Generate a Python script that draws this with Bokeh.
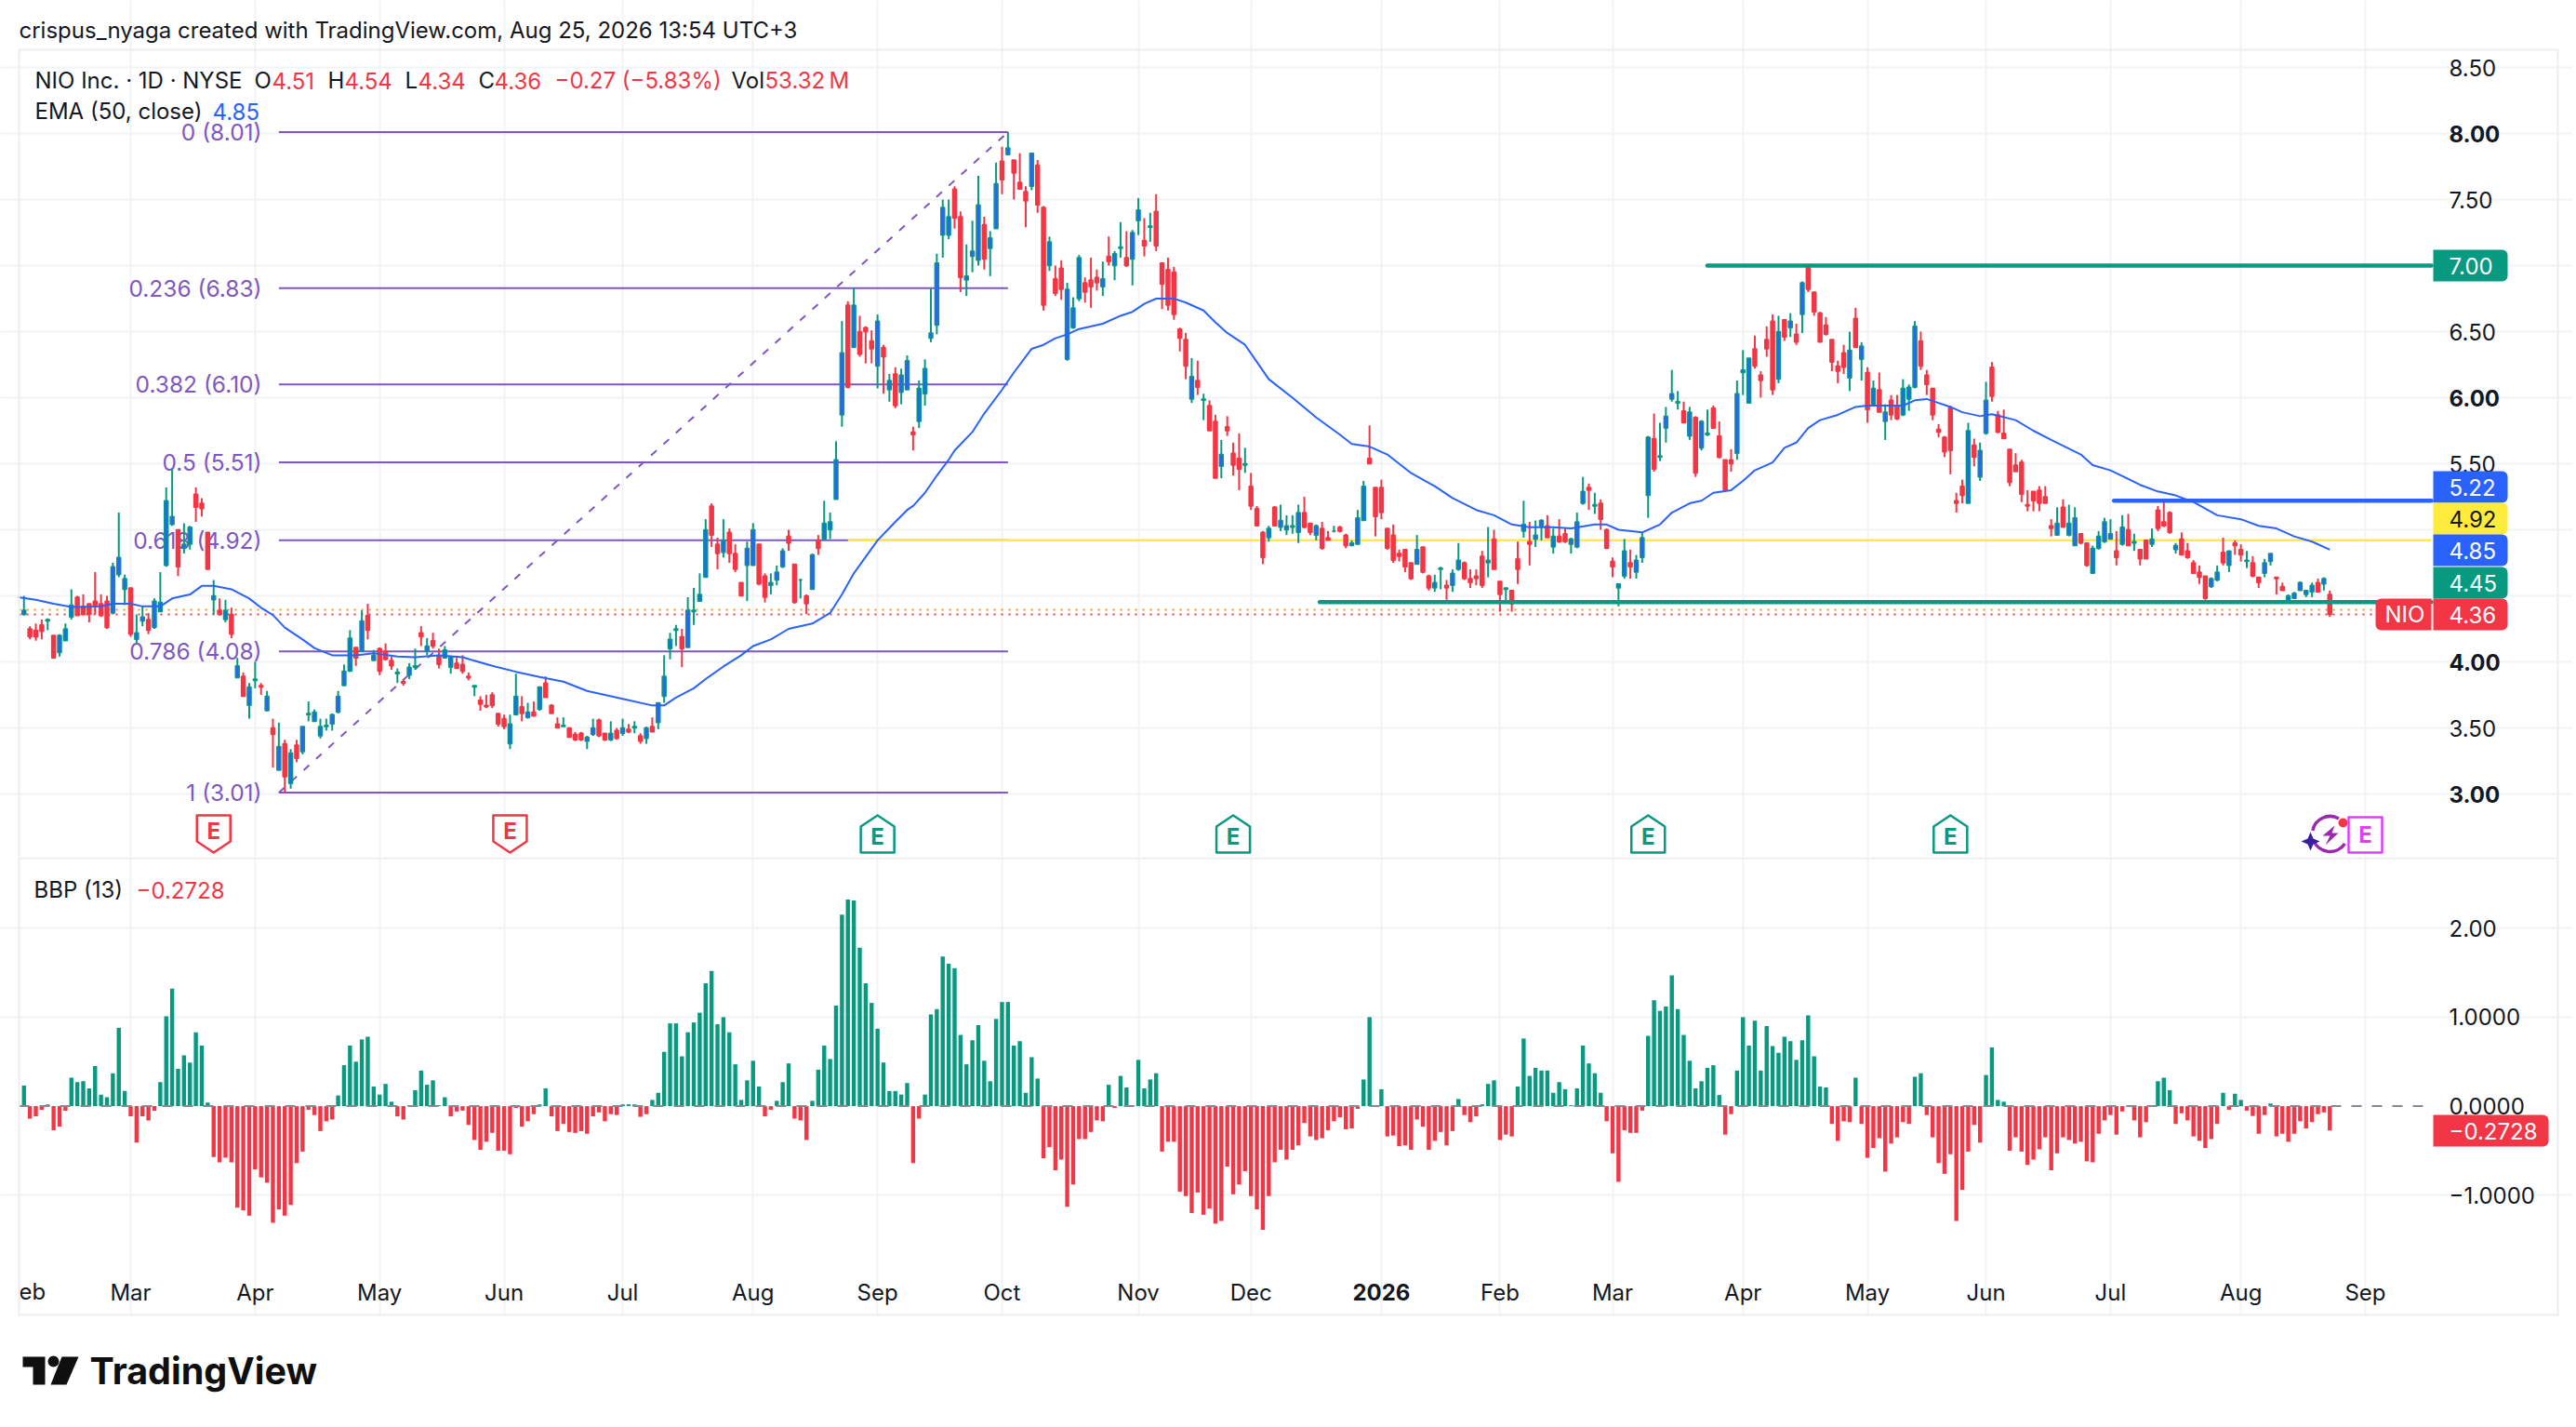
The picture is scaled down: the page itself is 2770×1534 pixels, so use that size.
from bokeh.plotting import figure
from bokeh.layouts import column
from bokeh.models import Range1d, FixedTicker, NumeralTickFormatter, Label, BoxAnnotation, LinearAxis
from bokeh.core.properties import value
from bokeh.embed import file_html
from bokeh.resources import INLINE

# ---- data: one row per ten daily bars, first bar index -18 ----
first_bar = -18
opens = [
 4.36,4.25,4.24,4.28,4.31,4.20,4.07,4.16,4.34,4.49,
 4.42,4.44,4.46,4.44,4.46,4.37,4.66,4.55,4.56,4.17,
 4.31,4.32,4.26,4.38,4.73,5.04,5.00,4.86,4.89,5.27,
 5.20,4.98,4.47,4.39,4.32,4.36,3.88,3.89,3.67,3.86,
 3.82,3.63,3.50,3.18,3.38,3.08,3.37,3.32,3.60,3.55,
 3.44,3.51,3.53,3.62,3.82,3.93,4.11,4.08,4.35,4.01,
 4.10,4.08,4.01,3.91,3.85,3.90,3.96,4.22,4.08,4.16,
 4.05,4.03,3.96,3.99,3.98,3.89,3.81,3.71,3.67,3.75,
 3.61,3.57,3.38,3.60,3.66,3.58,3.62,3.64,3.84,3.67,
 3.53,3.51,3.50,3.45,3.46,3.40,3.45,3.56,3.46,3.41,
 3.48,3.46,3.49,3.50,3.44,3.42,3.51,3.54,3.74,4.10,
 4.24,4.19,4.11,4.38,4.46,4.64,5.18,4.89,4.83,4.98,
 4.82,4.60,4.73,4.73,4.89,4.65,4.58,4.62,4.72,4.95,
 4.74,4.62,4.50,4.55,4.92,4.93,5.00,5.23,5.87,6.70,
 6.38,6.50,6.53,6.43,6.24,6.38,6.06,6.18,6.04,6.06,
 5.74,5.82,6.03,6.45,6.55,7.23,7.23,7.58,7.37,6.89,
 7.07,7.04,7.31,7.13,7.28,7.79,7.84,7.80,7.63,7.56,
 7.60,7.76,7.44,7.00,6.90,6.98,6.29,6.53,6.75,6.87,
 6.89,6.91,6.84,7.07,7.00,7.13,7.06,7.05,7.34,7.19,
 7.29,7.41,7.02,6.97,6.95,6.52,6.44,5.99,6.13,5.98,
 5.94,5.82,5.48,5.78,5.58,5.54,5.49,5.33,5.16,4.98,
 4.94,5.17,5.02,5.00,5.02,4.98,5.13,5.05,4.96,5.01,
 4.94,4.99,5.02,4.96,4.88,4.89,5.07,5.54,5.32,5.32,
 5.01,4.96,4.82,4.85,4.75,4.74,4.87,4.65,4.56,4.70,
 4.58,4.58,4.70,4.75,4.63,4.65,4.80,4.75,4.93,4.61,
 4.55,4.54,4.78,4.99,4.91,4.93,5.03,5.03,4.87,4.95,
 4.97,4.89,4.87,5.20,5.32,5.18,5.20,5.00,4.76,4.56,
 4.65,4.75,4.68,4.79,5.26,5.69,5.55,5.77,5.99,5.96,
 5.90,5.71,5.85,5.62,5.72,5.92,5.71,5.53,5.53,5.58,
 6.19,5.96,6.37,6.17,6.44,6.58,6.14,6.59,6.53,6.48,
 6.63,7.00,6.80,6.64,6.55,6.44,6.24,6.34,6.15,6.60,
 6.29,6.19,5.94,6.06,5.82,5.98,5.94,5.87,5.99,6.08,
 6.43,6.17,6.07,5.76,5.70,5.92,5.22,5.33,5.20,5.64,
 5.40,5.73,6.23,5.87,5.73,5.61,5.49,5.51,5.19,5.29,
 5.30,5.25,5.03,4.96,5.17,4.96,4.88,4.97,4.90,4.67,
 4.86,4.91,4.93,4.84,4.89,5.00,4.90,4.85,4.92,4.89,
 5.15,5.06,5.13,4.85,4.93,4.84,4.75,4.68,4.65,4.57,
 4.62,4.83,4.73,4.90,4.85,4.76,4.75,4.64,4.67,4.76,
 4.64,4.57,4.46,4.48,4.54,4.51,4.53,4.60,4.59,4.51]
closes = [
 4.39,4.19,4.19,4.23,4.32,4.03,4.20,4.25,4.43,4.35,
 4.36,4.36,4.43,4.35,4.26,4.72,4.79,4.63,4.21,4.22,
 4.34,4.24,4.46,4.45,5.22,5.10,4.72,4.89,5.02,5.17,
 5.16,4.70,4.50,4.36,4.39,4.21,3.97,3.74,3.81,3.87,
 3.81,3.74,3.45,3.36,3.13,3.31,3.27,3.51,3.61,3.62,
 3.51,3.52,3.60,3.74,3.93,4.18,4.03,4.31,4.24,4.05,
 3.93,4.02,3.97,3.92,3.84,3.96,3.97,4.19,4.12,4.12,
 3.98,4.09,4.04,3.95,3.93,3.88,3.82,3.68,3.66,3.67,
 3.53,3.51,3.53,3.74,3.61,3.62,3.59,3.81,3.73,3.61,
 3.50,3.52,3.43,3.41,3.41,3.43,3.50,3.44,3.41,3.46,
 3.42,3.50,3.47,3.51,3.40,3.50,3.47,3.69,3.89,4.17,
 4.25,4.10,4.39,4.39,4.51,5.00,4.96,4.82,4.92,4.82,
 4.70,4.50,4.86,5.00,4.59,4.49,4.60,4.68,4.84,4.90,
 4.45,4.62,4.44,4.81,4.86,5.05,5.06,5.53,6.34,6.08,
 6.70,6.33,6.50,6.37,6.58,6.31,6.13,5.94,6.17,6.28,
 5.72,6.07,6.22,6.49,7.02,7.44,7.37,7.36,6.91,6.92,
 7.11,7.46,7.05,7.21,7.62,7.65,7.89,7.70,7.58,7.49,
 7.85,7.46,6.70,7.18,6.79,6.82,6.82,6.68,7.06,6.80,
 6.84,6.87,6.90,7.03,7.09,7.14,7.00,7.25,7.42,7.15,
 7.30,7.15,6.86,6.70,6.63,6.45,6.24,6.16,6.08,5.99,
 5.75,5.39,5.57,5.75,5.49,5.46,5.50,5.18,5.03,4.79,
 5.01,5.03,5.07,5.03,5.03,5.13,5.02,4.98,5.03,4.86,
 4.92,4.99,4.99,4.88,4.90,5.09,5.33,5.50,5.10,5.13,
 4.86,4.77,4.80,4.72,4.63,4.85,4.68,4.56,4.60,4.71,
 4.56,4.67,4.77,4.63,4.60,4.63,4.58,4.77,4.70,4.51,
 4.56,4.44,4.70,5.04,4.89,4.96,5.07,4.94,4.95,4.91,
 4.91,4.93,5.06,5.29,5.30,5.19,5.08,4.86,4.72,4.59,
 4.84,4.72,4.77,4.94,5.70,5.46,5.56,5.86,6.03,5.97,
 5.81,5.89,5.43,5.82,5.73,5.77,5.55,5.30,5.50,6.03,
 6.21,6.30,6.24,6.13,6.37,6.06,6.50,6.46,6.58,6.42,
 6.87,6.82,6.65,6.42,6.48,6.27,6.20,6.23,6.36,6.38,
 6.39,5.91,6.07,5.89,5.89,5.87,5.84,6.07,6.08,6.54,
 6.24,6.10,5.87,5.74,5.59,5.60,5.20,5.26,5.75,5.55,
 5.60,5.98,6.01,5.74,5.69,5.36,5.44,5.27,5.18,5.22,
 5.20,5.20,5.01,5.05,5.02,5.05,5.09,4.90,4.73,4.86,
 4.95,5.06,4.97,4.79,5.02,4.88,4.91,4.78,4.78,4.93,
 5.01,5.03,4.98,4.88,4.81,4.79,4.67,4.64,4.48,4.63,
 4.68,4.75,4.84,4.88,4.81,4.77,4.65,4.60,4.75,4.82,
 4.63,4.54,4.50,4.52,4.60,4.54,4.58,4.53,4.63,4.36]
highs = [
 4.50,4.27,4.29,4.32,4.33,4.20,4.21,4.29,4.55,4.50,
 4.51,4.44,4.68,4.51,4.50,4.75,5.13,4.66,4.56,4.36,
 4.42,4.37,4.48,4.68,5.32,5.46,5.00,5.05,5.03,5.32,
 5.24,4.98,4.62,4.48,4.47,4.41,4.03,3.92,3.84,4.00,
 3.84,3.78,3.57,3.54,3.41,3.34,3.41,3.51,3.70,3.64,
 3.57,3.57,3.61,3.78,3.98,4.24,4.11,4.39,4.44,4.09,
 4.11,4.14,4.04,3.95,3.87,3.99,4.10,4.27,4.18,4.22,
 4.10,4.12,4.04,4.03,4.05,3.92,3.82,3.74,3.75,3.77,
 3.61,3.60,3.60,3.91,3.74,3.69,3.70,3.81,3.89,3.68,
 3.58,3.58,3.50,3.47,3.47,3.44,3.57,3.57,3.46,3.55,
 3.50,3.57,3.53,3.55,3.46,3.51,3.58,3.69,4.05,4.22,
 4.28,4.25,4.49,4.56,4.67,5.08,5.20,4.94,5.08,5.01,
 4.89,4.60,4.91,5.05,4.89,4.67,4.67,4.73,4.86,5.00,
 4.74,4.63,4.51,4.82,4.96,5.22,5.13,5.67,6.58,6.73,
 6.83,6.62,6.54,6.51,6.63,6.40,6.18,6.23,6.22,6.32,
 5.78,6.13,6.29,6.83,7.09,7.50,7.50,7.60,7.41,7.16,
 7.34,7.68,7.37,7.26,7.78,7.90,8.01,7.80,7.85,7.60,
 7.85,7.80,7.45,7.22,7.00,7.04,6.87,6.76,7.08,6.91,
 7.06,6.97,7.03,7.22,7.11,7.33,7.26,7.27,7.51,7.36,
 7.40,7.54,7.02,7.06,6.99,6.53,6.49,6.30,6.28,6.03,
 5.98,5.87,5.68,5.86,5.66,5.73,5.62,5.43,5.18,4.99,
 5.03,5.18,5.19,5.11,5.11,5.19,5.25,5.05,5.04,5.06,
 4.99,5.03,5.03,4.97,4.92,5.15,5.37,5.79,5.32,5.38,
 5.01,5.04,4.85,4.85,4.75,4.96,4.87,4.66,4.66,4.72,
 4.62,4.70,4.90,4.76,4.70,4.70,4.84,5.02,5.00,4.61,
 4.56,4.54,4.91,5.22,5.06,5.07,5.08,5.11,5.01,5.08,
 5.01,4.94,5.13,5.40,5.35,5.28,5.23,5.01,4.79,4.59,
 4.93,4.85,4.81,4.98,5.71,5.88,5.81,5.93,6.21,6.05,
 5.97,5.93,5.86,5.83,5.91,5.94,5.82,5.53,5.61,6.13,
 6.36,6.30,6.47,6.20,6.54,6.63,6.62,6.59,6.64,6.56,
 6.88,7.00,6.80,6.65,6.61,6.44,6.28,6.40,6.50,6.68,
 6.42,6.23,6.13,6.19,5.95,6.02,6.02,6.14,6.10,6.58,
 6.50,6.21,6.07,5.80,5.71,5.94,5.28,5.38,5.81,5.69,
 5.66,6.12,6.27,5.90,5.91,5.61,5.58,5.53,5.30,5.29,
 5.33,5.33,5.08,5.17,5.23,5.19,5.17,4.97,4.90,4.88,
 4.99,5.09,5.08,4.99,5.11,5.12,4.97,4.85,4.92,5.01,
 5.18,5.22,5.14,4.90,4.98,4.90,4.77,4.73,4.65,4.64,
 4.73,4.94,4.84,4.92,4.89,4.84,4.80,4.64,4.78,4.82,
 4.64,4.60,4.51,4.53,4.61,4.54,4.60,4.63,4.64,4.54]
lows = [
 4.35,4.17,4.16,4.17,4.24,4.03,4.04,4.16,4.32,4.35,
 4.35,4.30,4.36,4.34,4.25,4.36,4.64,4.43,4.19,4.14,
 4.27,4.21,4.25,4.38,4.72,5.03,4.65,4.82,4.85,5.06,
 5.10,4.70,4.36,4.35,4.30,4.18,3.88,3.74,3.57,3.80,
 3.75,3.63,3.20,3.18,3.01,3.04,3.24,3.30,3.55,3.55,
 3.42,3.48,3.48,3.61,3.82,3.93,3.97,4.08,4.17,4.01,
 3.90,4.01,3.94,3.84,3.82,3.87,3.94,4.12,4.05,4.10,
 3.95,4.03,3.91,3.95,3.91,3.86,3.74,3.63,3.65,3.65,
 3.51,3.49,3.34,3.60,3.55,3.57,3.59,3.63,3.73,3.61,
 3.50,3.51,3.43,3.40,3.40,3.34,3.44,3.43,3.40,3.40,
 3.41,3.44,3.46,3.46,3.38,3.38,3.47,3.49,3.69,4.02,
 4.12,3.96,4.11,4.28,4.46,4.64,4.87,4.70,4.79,4.75,
 4.68,4.50,4.46,4.73,4.58,4.45,4.51,4.58,4.71,4.84,
 4.44,4.48,4.36,4.55,4.81,4.93,4.93,5.23,5.78,6.07,
 6.38,6.31,6.26,6.26,6.07,6.03,5.97,5.92,5.95,6.06,
 5.60,5.77,5.94,6.42,6.48,7.06,7.20,7.28,6.80,6.77,
 6.95,7.00,6.97,6.92,7.28,7.54,7.84,7.50,7.58,7.29,
 7.57,7.40,6.66,6.96,6.77,6.74,6.28,6.52,6.73,6.72,
 6.68,6.81,6.77,7.00,6.89,7.06,6.99,6.85,7.23,7.07,
 7.18,7.11,6.67,6.66,6.59,6.35,6.14,5.96,6.02,5.83,
 5.75,5.39,5.39,5.71,5.41,5.30,5.43,5.15,5.03,4.74,
 4.91,5.03,4.99,4.96,4.97,4.90,5.01,4.96,4.92,4.85,
 4.92,4.98,4.98,4.86,4.88,4.89,5.07,5.50,4.95,5.08,
 4.85,4.75,4.76,4.68,4.62,4.74,4.67,4.54,4.53,4.55,
 4.47,4.53,4.69,4.62,4.56,4.58,4.56,4.64,4.70,4.38,
 4.44,4.38,4.59,4.94,4.73,4.87,4.92,4.94,4.82,4.90,
 4.90,4.82,4.86,5.19,5.15,5.12,5.00,4.86,4.64,4.42,
 4.63,4.63,4.63,4.75,5.09,5.44,5.52,5.66,5.97,5.91,
 5.81,5.68,5.40,5.60,5.71,5.77,5.54,5.29,5.44,5.53,
 6.02,5.96,6.22,6.00,6.31,6.02,6.11,6.43,6.46,6.40,
 6.49,6.80,6.62,6.42,6.47,6.20,6.11,6.18,6.05,6.38,
 6.13,5.81,5.94,5.89,5.68,5.83,5.83,5.86,5.90,6.07,
 6.21,6.02,5.83,5.70,5.55,5.42,5.13,5.20,5.20,5.48,
 5.37,5.72,5.97,5.73,5.69,5.33,5.44,5.21,5.14,5.14,
 5.14,5.20,4.95,4.96,5.02,4.95,4.88,4.89,4.72,4.67,
 4.85,4.90,4.93,4.73,4.88,4.88,4.84,4.73,4.78,4.87,
 4.99,5.02,4.97,4.82,4.81,4.78,4.67,4.59,4.47,4.56,
 4.61,4.73,4.68,4.81,4.76,4.71,4.64,4.56,4.64,4.73,
 4.51,4.54,4.46,4.48,4.54,4.49,4.49,4.53,4.54,4.34]
bbp = [
 .23,-.14,-.115,-.04,.02,-.27,-.23,-.05,.32,.27,
 .28,.2,.45,.13,.1,.37,.88,.17,-.115,-.41,
 -.115,-.16,-.05,.27,1.01,1.32,.42,.57,.49,.83,
 .68,.04,-.57,-.63,-.58,-.63,-1.14,-1.17,-1.23,-.71,
 -.80,-.86,-1.31,-1.16,-1.23,-1.11,-.64,-.51,-.04,-.10,
 -.28,-.17,-.15,.12,.46,.68,.50,.75,.78,.22,
 .13,.25,.05,-.115,-.15,.01,.18,.40,.24,.29,
 .01,.10,-.115,-.06,-.05,-.21,-.38,-.49,-.40,-.30,
 -.50,-.50,-.54,-.02,-.23,-.17,-.09,.02,.20,-.115,
 -.28,-.2,-.29,-.30,-.28,-.31,-.115,-.07,-.17,-.09,
 -.10,.02,.02,.02,-.12,-.09,.07,.15,.61,.93,
 .93,.56,.83,.94,1.05,1.38,1.52,.92,1.00,.83,
 .47,.07,.29,.51,.22,-.115,-.04,.06,.27,.48,
 -.14,-.16,-.38,.06,.41,.68,.53,1.13,2.15,2.32,
 2.31,1.78,1.38,1.16,.87,.49,.17,.17,.13,.26,
 -.64,-.14,.13,1.03,
 1.09,1.68,1.60,1.55,.80,.47,.74,.91,.51,.28,
 .98,1.17,1.17,.68,.73,.15,.55,.31,-.585,-.46,
 -.72,-.60,-1.13,-.88,-.37,-.37,-.29,-.16,-.17,.24,
 -.02,.34,.21,.01,.52,.20,.30,.37,-.51,-.40,
 -.40,-.96,-1.01,-1.20,-.97,-1.22,-1.15,-1.32,-1.29,-.68,
 -.99,-.88,-.73,-1.01,-1.16,-1.39,-1.01,-.63,-.49,-.60,
 -.49,-.44,-.19,-.34,-.38,-.36,-.27,-.17,-.125,-.26,
 -.25,-.03,.30,1.00,.01,.19,-.34,-.33,-.45,-.44,
 -.49,-.15,-.23,-.49,-.39,-.29,-.44,-.28,.08,-.10,
 -.18,-.115,.02,.25,.29,-.38,-.32,-.34,.22,.76,
 .34,.43,.40,.40,.15,.27,.19,.01,.20,.68,
 .48,.37,.15,-.17,-.53,-.85,-.27,-.30,-.30,-.05,
 .79,1.19,1.07,1.12,1.47,1.09,.80,.51,.20,.28,
 .43,.46,.125,-.32,-.09,.40,1.00,.68,.96,.40,
 .90,.675,.60,.78,.73,.52,.74,1.02,.56,.22,
 .21,-.20,-.39,-.17,-.18,.32,-.20,-.58,-.47,-.36,
 -.735,-.42,-.35,-.18,-.20,.33,.37,-.10,-.35,-.64,
 -.76,-.54,-1.29,-.94,-.51,-.21,-.41,.35,.66,.07,
 .05,-.50,-.35,-.51,-.66,-.60,-.485,-.35,-.72,-.53,
 -.35,-.38,-.42,-.40,-.62,-.63,-.31,-.16,-.10,-.32,
 -.06,-.01,-.16,-.35,-.18,0,.28,.32,.18,-.20,
 -.08,-.16,-.34,-.39,-.47,-.37,-.20,.15,-.04,.14,
 .07,-.05,-.11,-.31,-.10,.03,-.34,-.31,-.40,-.31,
 -.17,-.25,-.18,-.09,-.07,-.2728]
ema_bar = [-19,-16,-13,-10,-8,-5,-3,0,2,5,7,10,12,14,17,20,22,24,26,29,31,34,38,41,45,48,52,56,61,65,69,73,77,83,88,90,92,95,97,100,103,105,108,111,115,118,120,122,126,129,131,132,134,136,138,139,142,144,147,149,152,154,156,158,160,164,167,169,171,173,176,178,181,183,185,188,190,192,196,200,204,206,209,212,214,216,218,220,223,227,230,233,236,240,243,247,249,251,255,258,260,263,265,267,270,272,274,277,279,281,283,285,288,291,293,296,299,301,303,307,309,312,314,318,321,324,329,331,334,339,342,345,348,352,356,359,362,365,368,371]
ema_val = [4.49,4.47,4.44,4.415,4.415,4.42,4.44,4.44,4.42,4.42,4.48,4.51,4.575,4.575,4.55,4.48,4.41,4.355,4.26,4.17,4.105,4.05,4.05,4.065,4.04,4.035,4.05,4.035,3.97,3.925,3.885,3.85,3.78,3.72,3.67,3.67,3.73,3.80,3.87,3.965,4.05,4.12,4.17,4.25,4.29,4.37,4.51,4.67,4.92,5.06,5.15,5.18,5.28,5.41,5.53,5.60,5.74,5.88,6.06,6.19,6.37,6.40,6.45,6.48,6.52,6.56,6.62,6.65,6.71,6.75,6.75,6.72,6.66,6.57,6.49,6.40,6.27,6.14,6.0,5.85,5.72,5.65,5.63,5.57,5.50,5.43,5.38,5.33,5.24,5.15,5.11,5.04,5.02,5.02,5.01,5.04,5.04,5.0,4.98,5.04,5.13,5.20,5.22,5.28,5.30,5.37,5.45,5.51,5.62,5.66,5.77,5.83,5.87,5.93,5.94,5.94,5.94,5.98,5.99,5.93,5.89,5.86,5.875,5.83,5.75,5.68,5.57,5.49,5.45,5.34,5.29,5.26,5.21,5.11,5.08,5.03,5.01,4.95,4.91,4.85]

fib_ratio = ["0","0.236","0.382","0.5","0.618","0.786","1"]
fib_price = [8.01,6.83,6.10,5.51,4.92,4.08,3.01]
fib_start, fib_end = 25, 148
month_bar = [0,21,42,63,83,105,126,147,170,189,211,231,250,272,293,313,334,356,377]
month_lab = ["Mar","Apr","May","Jun","Jul","Aug","Sep","Oct","Nov","Dec","2026","Feb","Mar","Apr","May","Jun","Jul","Aug","Sep"]
price_ticks = [3,3.5,4,4.5,5,5.5,6,6.5,7,7.5,8,8.5]
price_plain = [3.5,5.5,6.5,7.5,8.5]
price_bold = [3,4,6,8]
bbp_ticks = [2,1,0,-1]
bbp_labels = ["2.00","1.0000","0.0000","\u22121.0000"]
earn_bar_red = [14,64]
earn_bar_green = [126,186,256,307]
earn_bar_next = 377
level_yellow, level_ema_last, level_green_hi, level_green_lo, level_blue, level_last, level_orange = 4.92,4.85,7.00,4.453,5.22,4.36,4.394

assert len(opens)==len(closes)==len(highs)==len(lows)==len(bbp)==390, (len(opens),len(closes),len(highs),len(lows),len(bbp))
assert len(ema_bar)==len(ema_val),(len(ema_bar),len(ema_val))

# ---- colours, type ----
GREEN,RED,BLUE,PURPLE,YELLOW,ORANGE="#089981","#f23645","#2962ff","#7e57c2","#ffeb3b","#ff9800"
GRID,INK,EDGE="#f2f3f5","#131722","#eceef2"
FONT="Inter"
SIZE=24
WIDE=2766

# ---- window pixel -> data helpers ----
def bx(px): return (px-140)/6.374
def py(px): return 3+(853-px)/142
def by(px): return (1188.6-px)/95.7

bars=list(range(first_bar,first_bar+len(opens)))

def base(h,yr,top_px,bot_px,yf):
    f=figure(width=WIDE,height=h,x_range=Range1d(bx(0),bx(WIDE)),y_range=yr,output_backend="svg",toolbar_location=None,
             x_axis_location=None,y_axis_location=None,min_border=0,
             background_fill_color="white",border_fill_color="white",outline_line_color=None)
    f.xgrid.ticker=FixedTicker(ticks=month_bar)
    f.xgrid.bounds=(yf(bot_px),yf(top_px))
    f.ygrid.bounds=(bx(20),bx(2614))
    f.xgrid.grid_line_color=GRID; f.xgrid.grid_line_width=2
    f.ygrid.grid_line_color=GRID; f.ygrid.grid_line_width=2
    return f

def style_axis(ax):
    ax.axis_line_color=None; ax.major_tick_line_color=None; ax.minor_tick_line_color=None
    ax.major_tick_in=0; ax.major_tick_out=0
    ax.major_label_text_font=FONT; ax.major_label_text_font_size=f"{SIZE}px"; ax.major_label_text_color=INK

def lab(f,text,x,y,yf,color=INK,size=SIZE,style="normal",align="left"):
    f.add_layout(Label(x=bx(x),y=yf(y),text=text,text_font=FONT,text_font_size=f"{size}px",text_color=color,
                       text_font_style=style,text_align=align,text_baseline="middle"))

def box(f,l,r,t,b,yf,color,radius=0):
    f.add_layout(BoxAnnotation(left=bx(l),right=bx(r),top=yf(t),bottom=yf(b),fill_color=color,fill_alpha=1,line_color=None,
                               border_radius=radius,editable=False))

# ================= price pane =================
p=base(921,Range1d(py(921),py(0)),53,921,py)
p.ygrid.ticker=FixedTicker(ticks=price_ticks)
yax=LinearAxis(fixed_location=bx(2614),ticker=FixedTicker(ticks=price_plain),formatter=NumeralTickFormatter(format="0.00"),major_label_standoff=19)
style_axis(yax)
p.add_layout(yax,"right")

edge_x=[bx(20),bx(2554)]
p.line(edge_x,[level_orange]*2,line_color=ORANGE,line_width=2,line_dash="2 6")
p.line(edge_x,[level_last]*2,line_color=RED,line_width=2,line_dash="2 6")

for lv in fib_price:
    p.line([fib_start,fib_end],[lv,lv],line_color=PURPLE,line_width=2)
p.line([fib_start,fib_end],[fib_price[-1],fib_price[0]],line_color=PURPLE,line_width=2,line_dash="8 10")
p.text(x=[bx(281)]*len(fib_price),y=fib_price,text=[f"{r} ({v:.2f})" for r,v in zip(fib_ratio,fib_price)],
       text_font=value(FONT),text_font_size=value("24.5px"),text_color=PURPLE,text_align="right",text_baseline="middle")
p.line([121,bx(2614)],[level_yellow]*2,line_color=YELLOW,line_width=2.5)

ups=[i for i in range(len(opens)) if closes[i]>=opens[i]]
dns=[i for i in range(len(opens)) if closes[i]<opens[i]]
for idx,col in ((ups,GREEN),(dns,RED)):
    xs=[bars[i] for i in idx]
    p.segment(xs,[highs[i] for i in idx],xs,[lows[i] for i in idx],line_color=col,line_width=2)
W=4/6.374
p.vbar(x=[bars[i] for i in ups],width=W,top=[closes[i] for i in ups],bottom=[opens[i] for i in ups],fill_color=BLUE,line_color=GREEN,line_width=1.5)
p.vbar(x=[bars[i] for i in dns],width=W,top=[opens[i] for i in dns],bottom=[closes[i] for i in dns],fill_color=RED,line_color=RED,line_width=1.5)

p.line(ema_bar,ema_val,line_color=BLUE,line_width=2)
p.line([266,bx(2614)],[level_green_hi]*2,line_color=GREEN,line_width=4.5,line_cap="round")
p.line([200.6,bx(2614)],[level_green_lo]*2,line_color=GREEN,line_width=4.5,line_cap="round")
p.line([334.6,bx(2614)],[level_blue]*2,line_color=BLUE,line_width=4.5,line_cap="round")

# earnings markers
dx=18/6.374
def house(k,down):
    t,s,b=py(876),py(888),py(916)
    if down:
        return [k-dx,k+dx,k+dx,k,k-dx],[t,t,py(904),b,py(904)]
    return [k,k+dx,k+dx,k-dx,k-dx],[t,s,b,b,s]
for k in earn_bar_red:
    xs,ys=house(k,True)
    p.patch(xs,ys,fill_color="white",line_color=RED,line_width=2.5,line_join="round")
for k in earn_bar_green:
    xs,ys=house(k,False)
    p.patch(xs,ys,fill_color="white",line_color=GREEN,line_width=2.5,line_join="round")
e_x=earn_bar_red+earn_bar_green
e_c=[RED]*len(earn_bar_red)+[GREEN]*len(earn_bar_green)
e_y=[py(893)]*len(earn_bar_red)+[py(899)]*len(earn_bar_green)
p.text(x=e_x,y=e_y,text=["E"]*len(e_x),text_color=e_c,text_font=value(FONT),text_font_size=value("24px"),text_font_style="bold",text_align="center",text_baseline="middle")
k=earn_bar_next
p.quad(left=k-dx,right=k+dx,top=py(878),bottom=py(916),fill_color="white",line_color="#e040fb",line_width=2.5,line_join="round")
p.text(x=[k],y=[py(897)],text=["E"],text_color="#e040fb",text_font=value(FONT),text_font_size=value("24px"),text_font_style="bold",text_align="center",text_baseline="middle")
cx,cy=bx(2505),py(896)
p.arc(x=[cx],y=[cy],radius=19,radius_units="screen",start_angle=1.05,end_angle=2.95,line_color="#9c27b0",line_width=3.5)
p.arc(x=[cx],y=[cy],radius=19,radius_units="screen",start_angle=3.5,end_angle=5.7,line_color="#9c27b0",line_width=3.5)
p.patch([bx(v) for v in (2510,2497,2505,2500,2514,2507)],[py(v) for v in (887,898,898,908,895,895)],fill_color="#9c27b0",line_color=None)
p.scatter([bx(2519)],[py(884)],size=10,fill_color=RED,line_color=None)
p.patch([bx(v) for v in (2484,2487,2494,2487,2484,2481,2474,2481)],[py(v) for v in (894,901,904,907,914,907,904,901)],fill_color="#3a1f9c",line_color=None)

# price axis: bold whole numbers
for v in price_bold:
    p.add_layout(Label(x=bx(2633),y=v,text=f"{v:.2f}",text_font=FONT,text_font_size=f"{SIZE}px",text_font_style="bold",text_color=INK,text_baseline="middle"))

# value badges
b_x0,b_x1=2616,2696
badges=[("7.00",285,GREEN,"white"),("5.22",523,BLUE,"white"),("4.92",557,YELLOW,INK),("4.85",591,BLUE,"white"),("4.45",626,GREEN,"white"),("4.36",660,RED,"white")]
for txt,yc,bg,fg in badges:
    box(p,b_x0,b_x1,yc-17,yc+17,py,bg,radius=(0,6,6,0))
    lab(p,txt,2633,yc,py,color=fg)
box(p,2554,2614,643,677,py,RED,radius=(6,0,0,6))
lab(p,"NIO",2564,660,py,color="white")

# frame lines
box(p,19,2751,52,54,py,EDGE)
box(p,19,21,53,921,py,EDGE)
box(p,2749,2751,53,921,py,EDGE)

# header + legend
lab(p,"crispus_nyaga created with TradingView.com, Aug 25, 2026 13:54 UTC+3",20,32,py)
lab(p,"NIO Inc. \u00b7 1D \u00b7 NYSE",37,86,py)
for t,x,c in (("O",273,INK),("4.51",292,RED),("H",352,INK),("4.54",370,RED),("L",435,INK),("4.34",449,RED),("C",514,INK),("4.36",531,RED),
              ("\u22120.27 (\u22125.83%)",596,RED),("Vol",786,INK),("53.32\u202fM",822,RED)):
    lab(p,t,x,86,py,color=c)
lab(p,"EMA (50, close)",37,119,py)
lab(p,"4.85",228,119,py,color=BLUE)

# ================= BBP pane =================
q=base(494,Range1d(by(1415),by(921)),923,1358,by)
q.ygrid.ticker=FixedTicker(ticks=[t for t in bbp_ticks if t!=0])
yax2=LinearAxis(fixed_location=bx(2614),ticker=FixedTicker(ticks=bbp_ticks),major_label_overrides=dict(zip(bbp_ticks,bbp_labels)),major_label_standoff=19)
style_axis(yax2)
q.add_layout(yax2,"right")

q.vbar(x=bars,width=4.4/6.374,top=bbp,bottom=0,fill_color=[GREEN if v>=0 else RED for v in bbp],line_color=None)
q.line([bx(20),bx(2614)],[0,0],line_color="#868993",line_width=2,line_dash="11 11")

box(q,2616,2740,1198,1232,by,RED,radius=(0,6,6,0))
lab(q,"\u22120.2728",2633,1215,by,color="white")
lab(q,"BBP (13)",36,956,by)
lab(q,"\u22120.2728",146,956,by,color=RED)

# time axis
tax=LinearAxis(fixed_location=by(1358),ticker=FixedTicker(ticks=[b for b,l in zip(month_bar,month_lab) if l!="2026"]),
               major_label_overrides={b:l for b,l in zip(month_bar,month_lab) if l!="2026"},major_label_standoff=16)
style_axis(tax)
q.add_layout(tax,"below")
lab(q,"2026",140+6.374*month_bar[month_lab.index("2026")],1388,by,style="bold",align="center")
lab(q,"eb",20,1388,by)

box(q,19,21,921,1414,by,EDGE)
box(q,2749,2751,921,1414,by,EDGE)
box(q,19,2751,1412,1414,by,EDGE)
box(q,19,2751,921,923,by,EDGE)

# ================= footer =================
c=figure(width=WIDE,height=111,x_range=Range1d(0,WIDE),y_range=Range1d(1526,1415),output_backend="svg",toolbar_location=None,
         x_axis_location=None,y_axis_location=None,min_border=0,outline_line_color=None)
c.grid.visible=False
c.patch([24,48,48,35,35,24],[1458,1458,1488,1488,1469,1469],fill_color="#0f0f0f",line_color=None)
c.patch([66,84,71,54],[1458,1458,1488,1488],fill_color="#0f0f0f",line_color=None)
c.scatter([57],[1463],size=12,fill_color="#0f0f0f",line_color=None)
c.add_layout(Label(x=96,y=1473,text="TradingView",text_font=FONT,text_font_size="39.5px",text_font_style="bold",text_color="#0f0f0f",text_baseline="middle"))

page=column(p,q,c,spacing=0)
open("out.html","w").write(file_html(page,INLINE))
